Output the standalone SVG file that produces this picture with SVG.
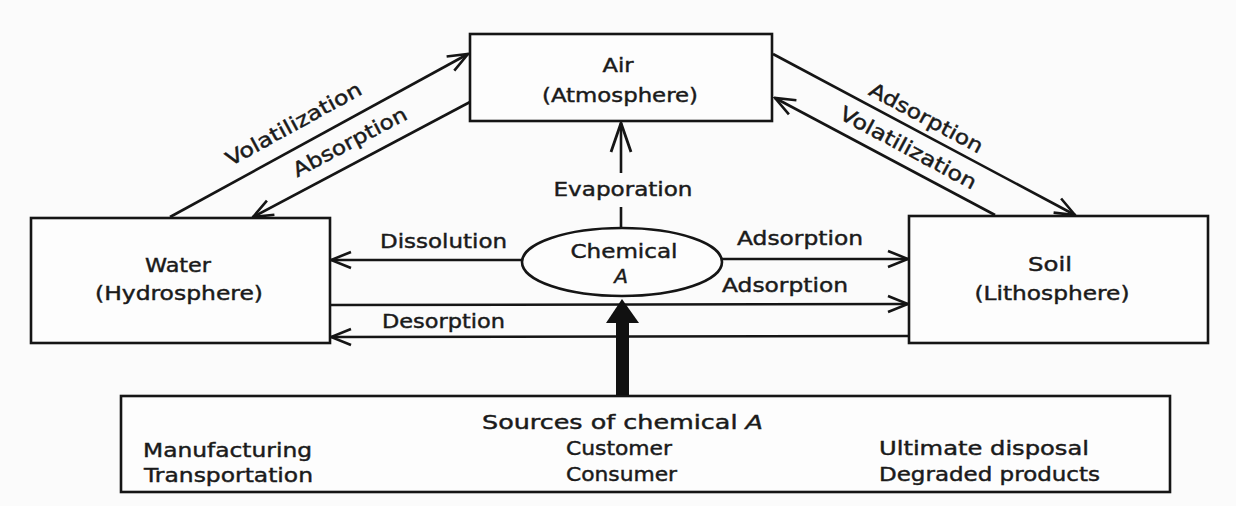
<svg xmlns="http://www.w3.org/2000/svg" width="1236" height="506" viewBox="0 0 1236 506">
<defs>
<style>
.box{fill:#fdfdfd;stroke:#151515;stroke-width:2.6}
.ln{fill:none;stroke:#151515;stroke-width:2.6}
.t{font-family:"DejaVu Sans","Liberation Sans",sans-serif;font-size:20px;fill:#1a1a1a;stroke:#1a1a1a;stroke-width:0.45;text-anchor:middle}
.s{font-family:"DejaVu Sans","Liberation Sans",sans-serif;font-size:20px;fill:#1a1a1a;stroke:#1a1a1a;stroke-width:0.45;text-anchor:start}
.it{font-style:italic}
</style>
<marker id="ah" markerWidth="24" markerHeight="20" refX="22" refY="10" orient="auto" markerUnits="userSpaceOnUse" viewBox="0 0 24 20">
<path d="M2,2 L22,10 L2,18" fill="none" stroke="#151515" stroke-width="2.6"/>
</marker>
<marker id="ahL" markerWidth="34" markerHeight="26" refX="32" refY="13" orient="auto" markerUnits="userSpaceOnUse" viewBox="0 0 34 26">
<path d="M3,3 L32,13 L3,23" fill="none" stroke="#151515" stroke-width="2.8"/>
</marker>
</defs>
<rect x="0" y="0" width="1236" height="506" fill="#fbfbfb"/>

<g id="connectors">
<line class="ln" x1="170" y1="217" x2="468" y2="54" marker-end="url(#ah)"/>
<line class="ln" x1="470" y1="102" x2="253" y2="217" marker-end="url(#ah)"/>
<text class="t" transform="translate(297,130) rotate(-28.8)" textLength="152" lengthAdjust="spacingAndGlyphs">Volatilization</text>
<text class="t" transform="translate(353,148) rotate(-27.9)" textLength="126" lengthAdjust="spacingAndGlyphs">Absorption</text>
<line class="ln" x1="773" y1="54" x2="1075" y2="215" marker-end="url(#ah)"/>
<line class="ln" x1="995" y1="215" x2="775" y2="98" marker-end="url(#ah)"/>
<text class="t" transform="translate(923,124) rotate(28.2)" textLength="126" lengthAdjust="spacingAndGlyphs">Adsorption</text>
<text class="t" transform="translate(905,154) rotate(28.2)" textLength="152" lengthAdjust="spacingAndGlyphs">Volatilization</text>
<line class="ln" x1="621" y1="173" x2="621" y2="123" marker-end="url(#ahL)"/>
<line class="ln" x1="621" y1="207" x2="621" y2="228"/>
<text class="t" x="623" y="196" textLength="139" lengthAdjust="spacingAndGlyphs">Evaporation</text>
<line class="ln" x1="522" y1="260" x2="331" y2="260" marker-end="url(#ah)"/>
<text class="s" x="380" y="248" textLength="127" lengthAdjust="spacingAndGlyphs">Dissolution</text>
<line class="ln" x1="722" y1="259" x2="908" y2="259" marker-end="url(#ah)"/>
<text class="s" x="737" y="245" textLength="126" lengthAdjust="spacingAndGlyphs">Adsorption</text>
<line class="ln" x1="331" y1="305" x2="908" y2="304" marker-end="url(#ah)"/>
<text class="s" x="722" y="292" textLength="126" lengthAdjust="spacingAndGlyphs">Adsorption</text>
<line class="ln" x1="908" y1="336" x2="331" y2="337" marker-end="url(#ah)"/>
<text class="s" x="382" y="328" textLength="123" lengthAdjust="spacingAndGlyphs">Desorption</text>
<rect x="616" y="320" width="13" height="76" fill="#111"/>
<polygon points="606,323 639,323 622,299" fill="#111"/>
</g>

<g id="air">
<rect class="box" x="470" y="34" width="302" height="87"/>
<text class="t" x="618" y="72" textLength="31" lengthAdjust="spacingAndGlyphs">Air</text>
<text class="t" x="620" y="102" textLength="156" lengthAdjust="spacingAndGlyphs">(Atmosphere)</text>
</g>

<g id="water">
<rect class="box" x="31" y="218" width="299" height="125"/>
<text class="t" x="178" y="272" textLength="66" lengthAdjust="spacingAndGlyphs">Water</text>
<text class="t" x="179" y="300" textLength="168" lengthAdjust="spacingAndGlyphs">(Hydrosphere)</text>
</g>

<g id="soil">
<rect class="box" x="909" y="216" width="299" height="127"/>
<text class="t" x="1050" y="271" textLength="44" lengthAdjust="spacingAndGlyphs">Soil</text>
<text class="t" x="1052" y="300" textLength="155" lengthAdjust="spacingAndGlyphs">(Lithosphere)</text>
</g>

<g id="chemical">
<ellipse cx="622" cy="262" rx="100" ry="34" fill="#fdfdfd" stroke="#151515" stroke-width="2.6"/>
<text class="t" x="624" y="258" textLength="107" lengthAdjust="spacingAndGlyphs">Chemical</text>
<text class="t it" x="621" y="283">A</text>
</g>

<g id="sources">
<rect class="box" x="121" y="396" width="1049" height="96"/>
<text class="s" x="482" y="429" textLength="281" lengthAdjust="spacingAndGlyphs">Sources of chemical <tspan class="it">A</tspan></text>
<text class="s" x="143" y="457" textLength="169" lengthAdjust="spacingAndGlyphs">Manufacturing</text>
<text class="s" x="144" y="482" textLength="169" lengthAdjust="spacingAndGlyphs">Transportation</text>
<text class="s" x="566" y="455" textLength="106" lengthAdjust="spacingAndGlyphs">Customer</text>
<text class="s" x="566" y="481" textLength="111" lengthAdjust="spacingAndGlyphs">Consumer</text>
<text class="s" x="879" y="455" textLength="210" lengthAdjust="spacingAndGlyphs">Ultimate disposal</text>
<text class="s" x="879" y="481" textLength="221" lengthAdjust="spacingAndGlyphs">Degraded products</text>
</g>
</svg>
